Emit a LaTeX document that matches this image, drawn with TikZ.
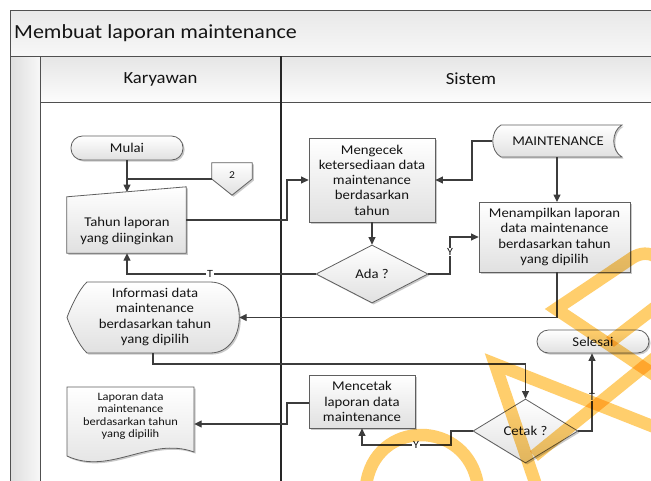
\documentclass[tikz,border=0pt]{standalone}
\usepackage{fontspec}
\setmainfont{Carlito}[FakeStretch=1.1]
\usetikzlibrary{arrows.meta,shadows,shapes.geometric,calc}

\definecolor{frameline}{RGB}{80,80,80}
\definecolor{conn}{RGB}{60,60,60}
\definecolor{shapeline}{RGB}{95,95,95}
\definecolor{txt}{RGB}{20,20,20}
\definecolor{wmark}{RGB}{255,206,108}

\pgfdeclarelayer{bg}
\pgfdeclarelayer{wm}
\pgfsetlayers{bg,main,wm}

\tikzset{
  shapefill/.style={draw=shapeline, line width=0.8pt, top color=white, bottom color=black!12,
    drop shadow={shadow xshift=1.6pt, shadow yshift=-1.6pt, opacity=0.35, fill=black!60}},
  label/.style={text=txt, font=\fontsize{13.4}{15.2}\selectfont, align=center, inner sep=0pt},
  procbox/.style={shapefill, label, rectangle},
  termbox/.style={shapefill, label, rectangle, rounded corners=11.5pt},
  decision/.style={shapefill, label, diamond, inner sep=0pt},
  flow/.style={draw=conn, line width=1.1pt, -{Triangle[length=7.5pt,width=7pt]}},
  plainflow/.style={draw=conn, line width=1.1pt},
  branch/.style={fill=white, text=txt, font=\fontsize{11}{11}\selectfont, inner sep=0.8pt},
  wmstroke/.style={draw=wmark, line width=12.5pt, line cap=butt, line join=miter},
}

\begin{document}
\begin{tikzpicture}[x=1pt, y=-1pt]
\useasboundingbox (0,0) rectangle (651,480);

% ---------- swimlane frame ----------
\begin{pgfonlayer}{bg}
  \fill[white] (0,0) rectangle (651,480);
  \shade[top color=black!9, bottom color=black!3] (10,10) rectangle (662,56);
  \shade[top color=black!10, bottom color=black!1] (40,56) rectangle (662,102);
  \shade[left color=black!13, right color=black!3] (10,56) rectangle (40,492);
  \draw[frameline, line width=0.9pt] (10,492) -- (10,10) -- (662,10);
  \draw[frameline, line width=0.9pt] (10,56) -- (662,56);
  \draw[frameline, line width=0.9pt] (40,102) -- (662,102);
  \draw[frameline, line width=0.9pt] (40,56) -- (40,492);
  \draw[black!85, line width=1.1pt] (281,56) -- (281,492);
\end{pgfonlayer}

\node[anchor=west, text=txt, font=\fontsize{20}{24}\selectfont, inner sep=0pt] (title) at (14,33) {Membuat laporan maintenance};
\node[text=txt, font=\fontsize{17}{19}\selectfont] (laneA) at (160.5,79) {Karyawan};
\node[text=txt, font=\fontsize{17}{19}\selectfont] (laneB) at (471,79) {Sistem};

% ---------- Karyawan lane ----------
\node[termbox, minimum width=112pt, minimum height=24pt] (mulai) at (127,148) {Mulai};

% off-page connector
\node[label, minimum width=40pt, minimum height=32pt] (c2) at (232,179) {};
\path[shapefill] (c2.north west) -- (c2.north east) -- (c2.east) -- (c2.south) -- (c2.west) -- cycle;
\node[label, font=\fontsize{10.5}{11}\selectfont] (c2txt) at (232,175) {2};

% manual input
\node[label, minimum width=119pt, minimum height=66pt] (tahun) at (126.5,220) {};
\path[shapefill] (tahun.south west) -- ($(tahun.north west)+(0,10)$) -- (tahun.north east) -- (tahun.south east) -- cycle;
\node[label] (tahuntxt) at (127,231) {Tahun laporan\\yang diinginkan};
\coordinate (tahunin) at (127,192);

% display
\node[label, minimum width=172pt, minimum height=71pt] (info) at (153,317.5) {};
\path[shapefill] (87,282) -- (210,282) .. controls (249,282) and (249,353) .. (210,353)
  -- (87,353) .. controls (79,346) and (70,326) .. (67,317.5) .. controls (70,309) and (79,289) .. (87,282) -- cycle;
\node[label] (infotxt) at (155,317) {Informasi data\\maintenance\\berdasarkan tahun\\yang dipilih};

% document
\node[label, minimum width=127pt, minimum height=76pt] (doc) at (130.5,425) {};
\path[shapefill] (67,387) -- (194,387) -- (194,452) .. controls (150,436) and (110,476) .. (67,456) -- cycle;
\node[label, font=\fontsize{11.3}{12.4}\selectfont] (doctxt) at (130.5,416) {Laporan data\\maintenance\\berdasarkan tahun\\yang dipilih};

% ---------- Sistem lane ----------
\node[procbox, minimum width=126pt, minimum height=84pt] (cek) at (372,180) {Mengecek\\ketersediaan data\\maintenance\\berdasarkan\\tahun};

\node[label, minimum width=129pt, minimum height=32pt] (maint) at (557,141) {};
\path[shapefill] (501,125) -- (622,125) .. controls (611,131) and (611,151) .. (622,157)
  -- (501,157) .. controls (490,151) and (490,131) .. (501,125) -- cycle;
\node[label] (mainttxt) at (558,141) {MAINTENANCE};

\node[procbox, minimum width=151pt, minimum height=70pt] (tampil) at (554.5,237) {Menampilkan laporan\\data maintenance\\berdasarkan tahun\\yang dipilih};

\node[decision, minimum width=112pt, minimum height=58pt] (ada) at (372,274) {Ada ?};

\node[termbox, minimum width=112pt, minimum height=23pt] (selesai) at (593,341.5) {Selesai};

\node[decision, minimum width=105pt, minimum height=64pt] (cetak) at (525.5,431) {Cetak ?};

\node[procbox, minimum width=106pt, minimum height=53pt] (cetakbox) at (362,401.5) {Mencetak\\laporan data\\maintenance};

% ---------- connectors ----------
\draw[flow] (mulai.south) -- (tahunin);
\draw[plainflow] (c2.west) -- (mulai.south |- c2.west);
\draw[flow] (tahun.east |- 0,220) -- (287,220) |- (cek.west);
\draw[flow] (maint.west) -- (472,141) |- (cek.east);
\draw[flow] (557,157) -- (557,202);
\draw[flow] (cek.south) -- (ada.north);
\draw[flow] (ada.east) -- (450,274) |- (tampil.west);
\node[branch] (ylab1) at (450,252) {Y};
\draw[flow] (ada.west) -| (tahun.south -| 127,0);
\node[branch] (tlab1) at (210,273.5) {T};
\draw[flow] (557,272) |- (info.east);
\draw[flow] (153,353) -- (153,364) -| (cetak.north);
\draw[flow] (cetak.east) -| (selesai.south -| 592,0);
\node[branch] (tlab2) at (592,397) {T};
\draw[flow] (cetak.west) -- (451,431) |- (cetakbox.south |- 0,445) -- (cetakbox.south);
\node[branch] (ylab2) at (416,445) {Y};
\draw[flow] (cetakbox.west |- 0,403) -- (287,403) |- (doc.east |- 0,424);

% ---------- watermark ----------
\begin{pgfonlayer}{wm}
\begin{scope}[blend mode=multiply]
  \draw[wmstroke] (366,486) .. controls (374,418) and (468,418) .. (478,486);
  \draw[wmstroke] (537,488) -- (495,364) -- (662,430);
  \draw[wmstroke] (534,456) -- (662,352);
  \draw[wmstroke] (662,380) -- (556,309) -- (632,258) .. controls (649,247) and (666,258) .. (668,280);
  \draw[wmstroke] (610,342) -- (662,302);
\end{scope}
\end{pgfonlayer}
\end{tikzpicture}
\end{document}
